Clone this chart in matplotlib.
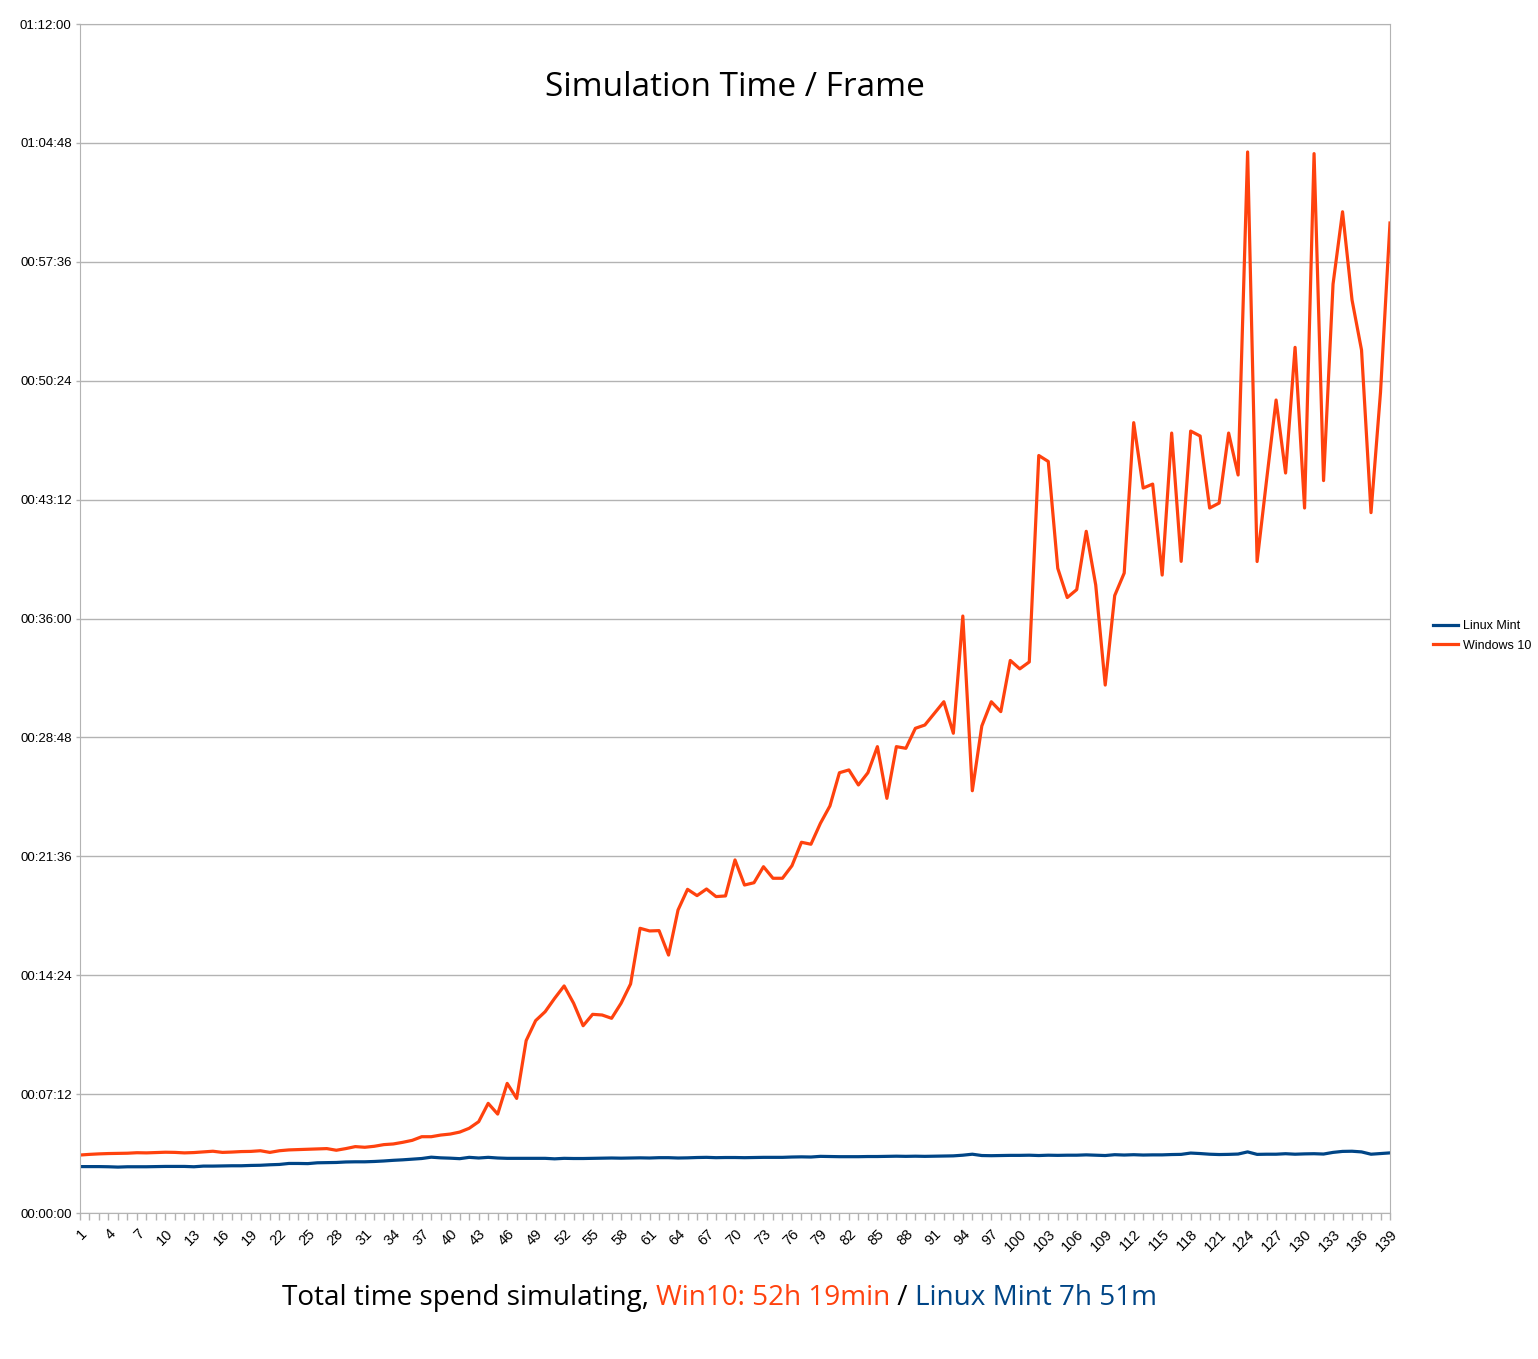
import matplotlib
matplotlib.use('Agg')
import matplotlib.pyplot as plt
from matplotlib.ticker import FuncFormatter, MultipleLocator

# data: simulation time per frame, in minutes
frames = list(range(1, 140))

linux_mint = [
    2.81, 2.81, 2.81, 2.80, 2.78, 2.80, 2.80, 2.80, 2.81, 2.82,
    2.82, 2.82, 2.80, 2.84, 2.84, 2.85, 2.86, 2.86, 2.88, 2.89,
    2.92, 2.94, 3.00, 3.00, 2.99, 3.04, 3.05, 3.06, 3.09, 3.10,
    3.10, 3.12, 3.15, 3.19, 3.22, 3.26, 3.30, 3.38, 3.34, 3.32,
    3.29, 3.37, 3.33, 3.37, 3.33, 3.31, 3.31, 3.31, 3.31, 3.31,
    3.28, 3.31, 3.30, 3.30, 3.31, 3.32, 3.33, 3.32, 3.33, 3.34,
    3.33, 3.35, 3.35, 3.33, 3.34, 3.36, 3.37, 3.35, 3.36, 3.36,
    3.35, 3.36, 3.37, 3.37, 3.37, 3.39, 3.40, 3.39, 3.43, 3.42,
    3.41, 3.41, 3.41, 3.42, 3.42, 3.43, 3.44, 3.43, 3.44, 3.43,
    3.44, 3.45, 3.46, 3.50, 3.56, 3.48, 3.47, 3.48, 3.49, 3.49,
    3.50, 3.48, 3.50, 3.49, 3.50, 3.50, 3.52, 3.50, 3.48, 3.53,
    3.51, 3.53, 3.51, 3.52, 3.52, 3.54, 3.55, 3.63, 3.60, 3.56,
    3.54, 3.55, 3.57, 3.70, 3.55, 3.56, 3.56, 3.59, 3.56, 3.58,
    3.59, 3.57, 3.67, 3.73, 3.74, 3.70, 3.56, 3.60, 3.64,
]

windows_10 = [
    3.51, 3.55, 3.58, 3.60, 3.61, 3.62, 3.65, 3.64, 3.66, 3.68,
    3.67, 3.64, 3.66, 3.70, 3.74, 3.67, 3.69, 3.72, 3.73, 3.77,
    3.67, 3.77, 3.82, 3.84, 3.86, 3.88, 3.90, 3.80, 3.90, 4.02,
    3.98, 4.04, 4.14, 4.18, 4.28, 4.40, 4.62, 4.62, 4.72, 4.78,
    4.90, 5.13, 5.53, 6.64, 5.99, 7.85, 6.94, 10.44, 11.65, 12.19,
    13.00, 13.75, 12.70, 11.34, 12.03, 11.99, 11.79, 12.70, 13.87, 17.24,
    17.08, 17.10, 15.62, 18.35, 19.60, 19.22, 19.62, 19.16, 19.20, 21.38,
    19.86, 20.00, 20.97, 20.27, 20.27, 21.03, 22.45, 22.33, 23.60, 24.65,
    26.66, 26.83, 25.92, 26.66, 28.24, 25.11, 28.24, 28.14, 29.35, 29.55,
    30.26, 30.96, 29.05, 36.15, 25.57, 29.49, 30.96, 30.36, 33.46, 32.95,
    33.37, 45.87, 45.51, 39.04, 37.27, 37.75, 41.28, 38.03, 31.97, 37.39,
    38.75, 47.86, 43.90, 44.14, 38.63, 47.23, 39.46, 47.35, 47.05, 42.69,
    42.99, 47.23, 44.69, 64.25, 39.45, 44.39, 49.23, 44.81, 52.42, 42.69,
    64.15, 44.35, 56.25, 60.63, 55.29, 52.26, 42.41, 49.70, 59.95,
]

series_names = ['Linux Mint', 'Windows 10']
title = 'Simulation Time / Frame'
footer_parts = ['Total time spend simulating, ', 'Win10: 52h 19min', ' / ', 'Linux Mint 7h 51m']

BLUE = '#004586'
ORANGE = '#ff420e'
GRID = '#b3b3b3'

fig = plt.figure(figsize=(15.38, 13.59), dpi=100)
ax = fig.add_axes([80/1538, 1 - 1213/1359, 1310/1538, 1189/1359])

ax.plot(frames, linux_mint, color=BLUE, lw=2.3, label=series_names[0])
ax.plot(frames, windows_10, color=ORANGE, lw=2.3, label=series_names[1])

# y axis: hh:mm:ss, step 7:12
def hms(v, pos):
    s = int(round(v * 60))
    return '%02d:%02d:%02d' % (s // 3600, (s // 60) % 60, s % 60)

ax.set_ylim(0, 72)
ax.yaxis.set_major_locator(MultipleLocator(7.2))
ax.yaxis.set_major_formatter(FuncFormatter(hms))
ax.grid(axis='y', color=GRID, lw=1)
ax.set_axisbelow(True)

# x axis: tick on every frame, label every 3rd
ax.set_xlim(1, 139)
ax.set_xticks(frames)
ax.set_xticklabels([str(f) if (f - 1) % 3 == 0 else '' for f in frames],
                   rotation=45, ha='right', rotation_mode='anchor')

for sp in ax.spines.values():
    sp.set_color(GRID)
ax.tick_params(axis='both', colors=GRID, width=1, labelcolor='black')
ax.tick_params(axis='x', length=5, pad=5, labelsize=10.5)
ax.tick_params(axis='y', length=3, pad=3, labelsize=9.5)
for lab in ax.get_xticklabels() + ax.get_yticklabels():
    lab.set_family('Liberation Sans')

fig.text(735/1538, 1 - 87/1359, title, ha='center', va='center',
         fontsize=24, family='Open Sans')

fig.legend(loc='center left', bbox_to_anchor=(1422/1538, 1 - 636/1359),
           frameon=False, prop={'family': 'Liberation Sans', 'size': 9},
           handlelength=2.0, handletextpad=0.4, labelspacing=0.6)

# footer in coloured pieces
colors = ['black', ORANGE, 'black', BLUE]
renderer = fig.canvas.get_renderer()
x = 282
for part, c in zip(footer_parts, colors):
    t = fig.text(x/1538, 1 - 1298/1359, part, ha='left', va='center',
                 fontsize=20.1, family='Open Sans', color=c)
    bb = t.get_window_extent(renderer=renderer)
    x += bb.width

fig.savefig('out.png', dpi=100)
